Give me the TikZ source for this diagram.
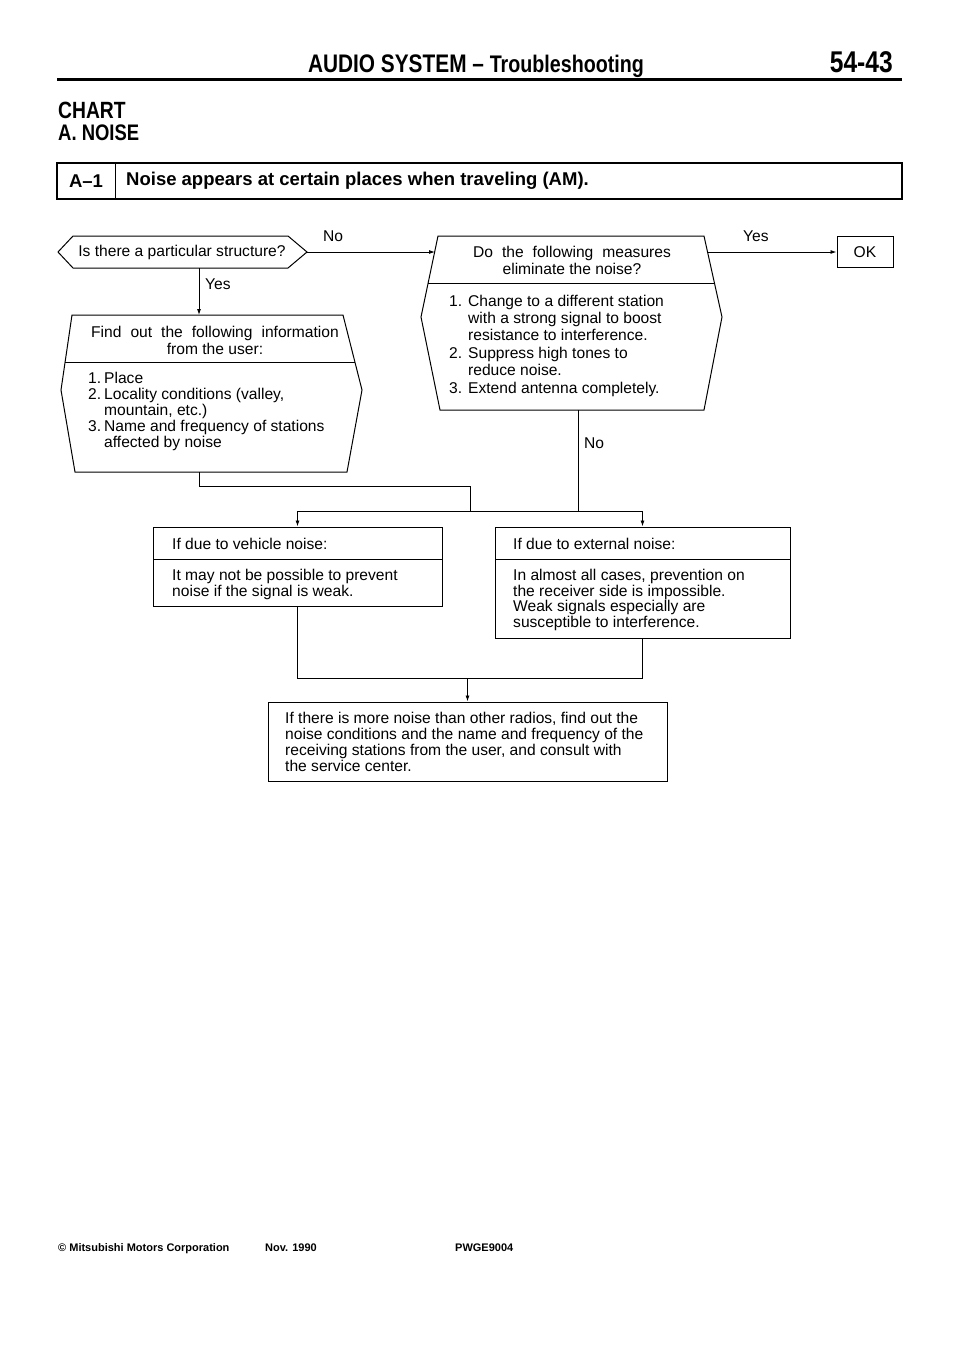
\documentclass[tikz,border=0pt]{standalone}
\usepackage{fontspec}
\setmainfont{Liberation Sans}
\newfontfamily\condfont[FakeStretch=0.82]{Liberation Sans}
\usepackage{tikz}
\usetikzlibrary{arrows.meta, positioning, calc}
\newcommand{\lnum}[2]{\makebox[#1][l]{#2}}
\newcommand{\widesp}{\spaceskip=9pt\relax}
\tikzset{
  body/.style={inner sep=0pt, align=left, font=\fontsize{15.6}{#1}\selectfont},
  body/.default=16,
  wide/.style={inner sep=0pt, align=center, font=\fontsize{15.6}{17}\selectfont},
  hdr/.style={inner sep=0pt, font=\condfont\bfseries},
  rowtx/.style={inner sep=0pt, font=\fontsize{18.5}{20}\selectfont\bfseries},
  foot/.style={inner sep=0pt, anchor=base west, font=\fontsize{11}{12}\selectfont\bfseries},
  shp/.style={draw, line width=1pt},
  rbox/.style={draw, line width=1pt, inner sep=0pt},
  wire/.style={line width=0.9pt},
  arr/.style={-{Latex[length=6pt,width=4pt]}, line width=0.9pt},
  yn/.style={inner sep=0pt, anchor=west, font=\fontsize{15.6}{16}\selectfont}
}

\begin{document}
\begin{tikzpicture}[x=1pt, y=-1pt]
  \useasboundingbox (0,0) rectangle (960,1358);
  \fill[white] (0,0) rectangle (960,1358);

  % page header
  \node[hdr, anchor=base] (title) at (476,72)
    {\fontsize{25.4}{27}\selectfont AUDIO SYSTEM – {\fontsize{24}{26}\selectfont Troubleshooting}};
  \node[hdr, anchor=base east] (page) at (893,72) {\fontsize{30}{32}\selectfont 54-43};
  \draw[line width=3pt] (57,79) -- (902,79);
  \node[hdr, anchor=base west] (chart) at (58,118) {\fontsize{23.5}{26}\selectfont CHART};
  \node[hdr, anchor=base west] (sect) at (58,140) {\fontsize{22.5}{24}\selectfont A. NOISE};

  % symptom row
  \draw[line width=1.5pt] (57,163) rectangle (902,199);
  \draw[line width=1pt] (115,163) -- (115,199);
  \node[rowtx] (code) at (86,181) {A–1};
  \node[rowtx, anchor=west] (symptom) at (126,181)
    {Noise appears at certain places when traveling (AM).};

  % first check
  \draw[shp] (73,236) -- (288,236) -- (307,252) -- (288,268) -- (73,268) -- (58,252) -- cycle;
  \node[body] (q1) at (182,252) {Is there a particular structure?};
  \coordinate (q1e) at (307,252);
  \coordinate (q1s) at (199,268);

  % ask the user
  \draw[shp] (72,315) -- (343,315) -- (362,390) -- (347,472) -- (75,472) -- (61,390) -- cycle;
  \draw[shp] (65,362) -- (355,362);
  \node[wide] (info) at (215,340) {\widesp Find out the following information\\from the user:};
  \node[body, anchor=west] (infolist) at (88,411)
    {\lnum{16pt}{1.}Place\\
     \lnum{16pt}{2.}Locality conditions (valley,\\
     \hspace*{16pt}mountain, etc.)\\
     \lnum{16pt}{3.}Name and frequency of stations\\
     \hspace*{16pt}affected by noise};
  \coordinate (infos) at (199,472);
  \coordinate (infon) at (199,315);

  % measures
  \draw[shp] (438,236) -- (704,236) -- (722,317) -- (704,410) -- (440,410) -- (421,317) -- cycle;
  \draw[shp] (428,283) -- (714,283);
  \node[wide] (q2) at (572,260) {\widesp Do the following measures\\eliminate the noise?};
  \node[body=17.4, anchor=west] (q2list) at (449,345.5)
    {\lnum{19pt}{1.}Change to a different station\\
     \hspace*{19pt}with a strong signal to boost\\
     \hspace*{19pt}resistance to interference.\\
     \lnum{19pt}{2.}Suppress high tones to\\
     \hspace*{19pt}reduce noise.\\
     \lnum{19pt}{3.}Extend antenna completely.};
  \coordinate (q2w) at (435,252);
  \coordinate (q2e) at (707,252);
  \coordinate (q2s) at (578,410);

  \node[rbox, body, align=center, minimum width=56pt, minimum height=31pt] (ok) at (865,252) {OK};

  % causes
  \node[rbox, minimum width=289pt, minimum height=79pt] (veh) at (297.5,566.5) {};
  \draw[shp] (153,559) -- (442,559);
  \node[body, anchor=west] (vehhd) at (172,544) {If due to vehicle noise:};
  \node[body=15.5, anchor=west] (vehtx) at (172,584.5)
    {It may not be possible to prevent\\noise if the signal is weak.};

  \node[rbox, minimum width=295pt, minimum height=111pt] (ext) at (642.5,582.5) {};
  \draw[shp] (495,559) -- (790,559);
  \node[body, anchor=west] (exthd) at (513,544) {If due to external noise:};
  \node[body=15.4, anchor=west] (exttx) at (513,600)
    {In almost all cases, prevention on\\the receiver side is impossible.\\
     Weak signals especially are\\susceptible to interference.};

  \node[rbox, minimum width=399pt, minimum height=79pt] (final) at (467.5,741.5) {};
  \node[body, anchor=west] (finaltx) at (285,741.5)
    {If there is more noise than other radios, find out the\\
     noise conditions and the name and frequency of the\\
     receiving stations from the user, and consult with\\
     the service center.};

  % connectors
  \coordinate (bus) at (470,511);
  \coordinate (join) at (467.5,678);
  \draw[arr] (q1e) -- (q2w);
  \draw[arr] (q1s) -- (infon);
  \draw[arr] (q2e) -- (ok.west);
  \draw[wire] (infos) -- ++(0,14) -| (bus);
  \draw[wire] (q2s) -- (q2s |- bus);
  \draw[wire] (veh.north |- bus) -- (ext.north |- bus);
  \draw[arr] (veh.north |- bus) -- (veh.north);
  \draw[arr] (ext.north |- bus) -- (ext.north);
  \draw[wire] (veh.south) -- (veh.south |- join) -- (ext.south |- join) -- (ext.south);
  \draw[arr] (join) -- (final.north);

  \node[yn] (no1) at (323,236) {No};
  \node[yn] (yes1) at (205,284) {Yes};
  \node[yn] (yes2) at (743,236) {Yes};
  \node[yn] (no2) at (584,443) {No};

  % footer
  \node[foot] (corp) at (58,1251) {© Mitsubishi Motors Corporation};
  \node[foot] (date) at (265,1251) {Nov. 1990};
  \node[foot] (pub) at (455,1251) {PWGE9004};
\end{tikzpicture}
\end{document}
